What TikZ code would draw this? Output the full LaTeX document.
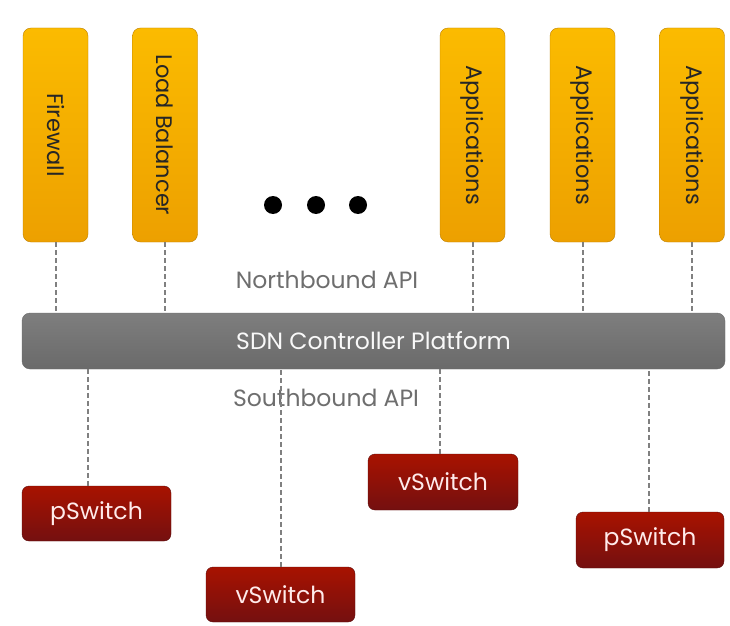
\documentclass[tikz,border=0pt]{standalone}
\usepackage{fontspec}
\setmainfont{Poppins}
\definecolor{ytop}{HTML}{FBBB00}
\definecolor{ybot}{HTML}{EDA000}
\definecolor{rtop}{HTML}{A81200}
\definecolor{rbot}{HTML}{741010}
\definecolor{gtop}{HTML}{7E7E7E}
\definecolor{gbot}{HTML}{6A6A6A}
\definecolor{dashgray}{HTML}{808080}
\definecolor{apitext}{HTML}{6E6E6E}
\tikzset{
  appbox/.style={draw=ybot!80!black, line width=0.4pt, rounded corners=8pt, top color=ytop, bottom color=ybot,
    minimum width=65pt, minimum height=214pt, inner sep=0pt},
  apptext/.style={rotate=-90, text=black!85, font=\fontsize{22.5}{26}\selectfont},
  swbox/.style={draw=rbot!80!black, line width=0.4pt, rounded corners=7pt, top color=rtop, bottom color=rbot,
    minimum width=149pt, minimum height=55pt, inner sep=0pt, text=white!92!red, font=\fontsize{23.5}{26}\selectfont},
  barbox/.style={draw=gbot, line width=0.4pt, rounded corners=8pt, top color=gtop, bottom color=gbot,
    minimum width=703pt, minimum height=56pt, inner sep=0pt, text=white!95!gray, font=\fontsize{23.5}{26}\selectfont},
  dl/.style={draw=dashgray, line width=2pt, dash pattern=on 5pt off 3pt},
  apilabel/.style={text=apitext, font=\fontsize{23.5}{26}\selectfont},
  dotnode/.style={circle, fill=black, minimum size=18pt, inner sep=0pt}
}
\begin{document}
\begin{tikzpicture}[x=1pt,y=1pt]
\fill[white] (0,0) rectangle (730,625);
\useasboundingbox (0,0) rectangle (730,625);
% top boxes
\node[appbox] (fw) at (55.5,490) {};
\node[apptext] at (fw) {Firewall};
\node[appbox] (lb) at (165,490) {};
\node[apptext] at (lb) {Load Balancer};
\node[appbox] (ap1) at (472.5,490) {};
\node[apptext] at (ap1) {Applications};
\node[appbox] (ap2) at (582.5,490) {};
\node[apptext] at (ap2) {Applications};
\node[appbox] (ap3) at (692,490) {};
\node[apptext] at (ap3) {Applications};
% dots
\node[dotnode] (d1) at (273,420) {};
\node[dotnode] (d2) at (316,420) {};
\node[dotnode] (d3) at (358,420) {};
% bar
\node[barbox] (bar) at (373.5,284) {SDN Controller Platform};
% labels
\node[apilabel] (nb) at (327,345) {Northbound API};
\node[apilabel] (sb) at (326,227) {Southbound API};
% switches
\node[swbox] (sw1) at (96.5,111.5) {pSwitch};
\node[swbox] (sw2) at (280.5,30.5) {vSwitch};
\node[swbox, minimum width=150pt, minimum height=56pt] (sw3) at (443,143) {vSwitch};
\node[swbox, minimum width=148pt, minimum height=56pt] (sw4) at (650,85) {pSwitch};
% northbound links
\foreach \b in {fw,lb,ap1,ap2,ap3}
  \draw[dl] (\b.south) -- (\b.south |- bar.north);
% southbound links
\draw[dl] ([xshift=-8.5pt]sw1.north) -- ([xshift=-8.5pt]sw1.north |- bar.south);
\draw[dl] ([xshift=0.5pt]sw2.north) -- ([xshift=0.5pt]sw2.north |- bar.south);
\draw[dl] ([xshift=-3pt]sw3.north) -- ([xshift=-3pt]sw3.north |- bar.south);
\draw[dl] ([xshift=-1pt]sw4.north) -- ([xshift=-1pt]sw4.north |- bar.south);
\end{tikzpicture}
\end{document}
